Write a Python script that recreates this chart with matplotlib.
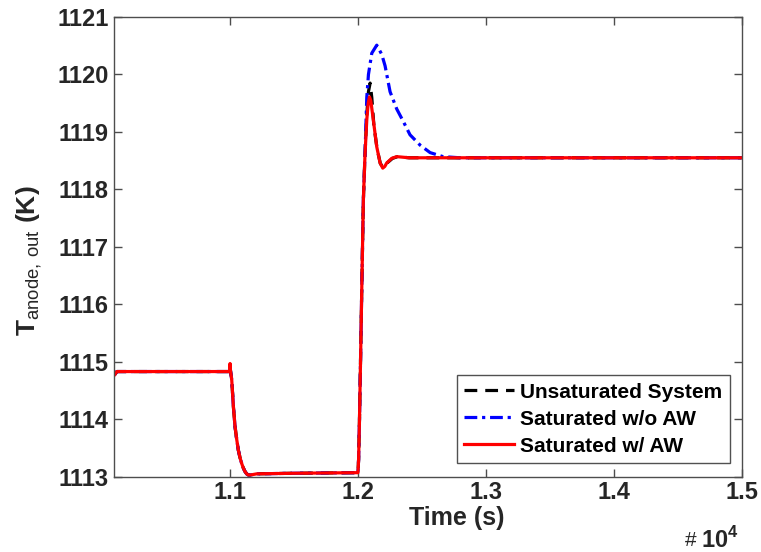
import matplotlib
matplotlib.use("Agg")
import matplotlib.pyplot as plt
from matplotlib.ticker import FixedLocator, FuncFormatter

plt.rcParams['font.family'] = ['Liberation Sans', 'DejaVu Sans']
plt.rcParams['mathtext.fontset'] = 'custom'
plt.rcParams['mathtext.rm'] = 'Liberation Sans'
plt.rcParams['mathtext.bf'] = 'Liberation Sans:bold'

# ---- data (time in s, temperature in K) ----
t_pre = [10100, 10115, 10200, 10998, 11000, 11003, 11013, 11026, 11039, 11052,
         11065, 11078, 11091, 11104, 11117, 11130, 11143, 11160, 11209, 11500,
         11998, 12000, 12005, 12012, 12020, 12030, 12042, 12055]
v_pre = [1114.78, 1114.83, 1114.83, 1114.83, 1114.97, 1114.85, 1114.69, 1114.22,
         1113.87, 1113.65, 1113.46, 1113.33, 1113.23, 1113.15, 1113.09, 1113.05,
         1113.03, 1113.03, 1113.05, 1113.06, 1113.07, 1113.07, 1113.3, 1114.0,
         1115.0, 1116.3, 1117.8, 1118.6]

t_unsat = [12069, 12082, 12095, 12108, 12125, 12150, 12175, 12197, 12228,
           12270, 12310, 12400, 15000]
v_unsat = [1119.3, 1119.7, 1119.85, 1119.6, 1119.1, 1118.7, 1118.45, 1118.38,
           1118.46, 1118.54, 1118.57, 1118.55, 1118.55]

t_noaw = [12069, 12082, 12108, 12147, 12186, 12212, 12251, 12303, 12355,
          12407, 12486, 12564, 12665, 12798, 15000]
v_noaw = [1119.6, 1120.0, 1120.37, 1120.51, 1120.35, 1120.15, 1119.7, 1119.4,
          1119.18, 1118.95, 1118.77, 1118.64, 1118.57, 1118.55, 1118.55]

t_aw = [12069, 12080, 12090, 12100, 12120, 12147, 12173, 12194, 12210, 12225,
        12264, 12303, 12400, 15000]
v_aw = [1119.21, 1119.5, 1119.61, 1119.55, 1119.21, 1118.74, 1118.46, 1118.37,
        1118.40, 1118.46, 1118.54, 1118.57, 1118.55, 1118.55]

labels = ['Unsaturated System', 'Saturated w/o AW', 'Saturated w/ AW']
x_ticks = [11000, 12000, 13000, 14000, 15000]
y_ticks = [1113, 1114, 1115, 1116, 1117, 1118, 1119, 1120, 1121]

fig = plt.figure(figsize=(7.61, 5.52), dpi=100)
ax = fig.add_axes([0.1502, 0.1364, 0.8244, 0.8328])

lw = 2.3
ax.plot(t_pre + t_unsat, v_pre + v_unsat, color='black', ls=(0, (4, 2.5)), lw=lw, label=labels[0])
ax.plot(t_pre + t_noaw, v_pre + v_noaw, color='#0000ff', ls=(0, (4, 1.5, 1, 1.5)), lw=lw, label=labels[1])
ax.plot(t_pre + t_aw, v_pre + v_aw, color='#ff0000', ls='-', lw=lw, label=labels[2])

ax.set_xlim(10095, 15000)
ax.set_ylim(1113, 1121)
ax.xaxis.set_major_locator(FixedLocator(x_ticks))
ax.yaxis.set_major_locator(FixedLocator(y_ticks))
ax.xaxis.set_major_formatter(FuncFormatter(lambda v, p: f"{v/1e4:.1f}"))
ax.yaxis.set_major_formatter(FuncFormatter(lambda v, p: f"{int(round(v))}"))

axcol = '#4d4d4d'
for s in ax.spines.values():
    s.set_color(axcol)
    s.set_linewidth(1.0)
ax.tick_params(direction='in', length=6, width=1.0, color=axcol, labelcolor='#262626',
               labelsize=17, top=True, right=True)
ax.tick_params(axis='y', pad=4)
ax.tick_params(axis='x', pad=3)
for lab in ax.get_xticklabels() + ax.get_yticklabels():
    lab.set_fontweight('bold')

ax.set_xlabel('Time (s)', fontsize=18, fontweight='bold', color='#262626')
ax.xaxis.set_label_coords(0.546, -0.063)
ax.set_ylabel(r'T$_{\mathrm{anode,\,out}}$ (K)', fontsize=19, fontweight='bold', color='#262626')
ax.yaxis.set_label_coords(-0.112, 0.47)

fig.text(685/761, 1 - 540/552, '#', fontsize=15, color='#262626', ha='left', va='center')
fig.text(701/761, 1 - 540/552, r'10$^{\mathbf{4}}$', fontsize=17, fontweight='bold',
         color='#262626', ha='left', va='center')

leg = ax.legend(loc='lower right', bbox_to_anchor=(0.981, 0.03),
                prop={'weight': 'bold', 'size': 15}, frameon=True, fancybox=False,
                handlelength=2.4, handletextpad=0.3, borderpad=0.35, labelspacing=0.38,
                borderaxespad=0.0)
leg.get_frame().set_edgecolor('#262626')
leg.get_frame().set_linewidth(1.0)

fig.savefig('out.png', dpi=100)
